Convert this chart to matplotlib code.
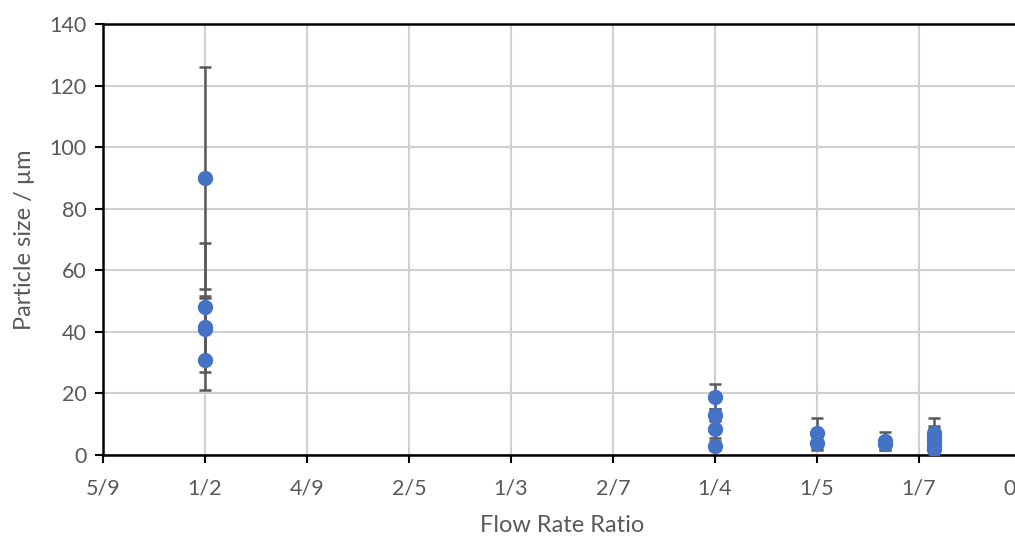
import matplotlib.pyplot as plt
import numpy as np
from matplotlib.transforms import ScaledTranslation

# Flow rate ratio (x) and particle size in um (y) with symmetric error
ratio = [1/2, 1/2, 1/2, 1/2, 1/2,
         1/4, 1/4, 1/4, 1/4,
         1/5, 1/5,
         1/6, 1/6,
         1/7, 1/7, 1/7, 1/7, 1/7]
size = [90, 48, 41.5, 41, 31,
        19, 13, 8.5, 3,
        7, 4,
        4.5, 3.5,
        7, 6, 4.5, 3, 2]
err = [36, 21, 10, 10, 10,
       4, 2, 3, 1.5,
       5, 2.4,
       3, 2,
       5, 3.5, 4.2, 2, 1.5]

tick_vals = [0.55, 0.5, 0.45, 0.4, 0.35, 0.3, 0.25, 0.2, 0.15, 0.1]
tick_labels = ["5/9", "1/2", "4/9", "2/5", "1/3", "2/7", "1/4", "1/5", "1/7", "0"]

plt.rcParams["font.family"] = ["Lato", "DejaVu Sans"]
grey = "#595959"

fig = plt.figure(figsize=(10.15, 5.38), dpi=100)
ax = fig.add_axes([103 / 1015, 83 / 538, 918 / 1015, 431 / 538])

ax.errorbar(ratio, size, yerr=err, fmt="none", ecolor=grey, elinewidth=1.8,
            capsize=4, capthick=1.8, zorder=3)
ax.plot(ratio, size, "o", color="#4472C4", markersize=10, zorder=4)

ax.set_xlim(0.55, 0.1)
ax.set_ylim(0, 140)
ax.set_xticks(tick_vals)
ax.set_xticklabels(tick_labels)
ax.set_yticks(np.arange(0, 141, 20))

ax.grid(True, color="#d0d0d0", linewidth=1.5, zorder=0)
ax.set_axisbelow(True)
for side in ["left", "bottom", "top"]:
    ax.spines[side].set_color("black")
    ax.spines[side].set_linewidth(1.8)
ax.spines["right"].set_visible(False)

ax.tick_params(axis="both", colors="black", labelcolor=grey, labelsize=15.5,
               width=1.5, length=6, direction="out")
ax.tick_params(axis="x", pad=11)
ax.tick_params(axis="y", pad=6)
ax.set_xlabel("Flow Rate Ratio", fontsize=17, color=grey, labelpad=12)
ax.set_ylabel("Particle size / µm", fontsize=17, color=grey, labelpad=10)

# the last tick sits just past the right edge; keep its label inside the picture
last = ax.get_xticklabels()[-1]
last.set_transform(last.get_transform() + ScaledTranslation(-0.11, 0, fig.dpi_scale_trans))

fig.savefig("out.png", dpi=100)
